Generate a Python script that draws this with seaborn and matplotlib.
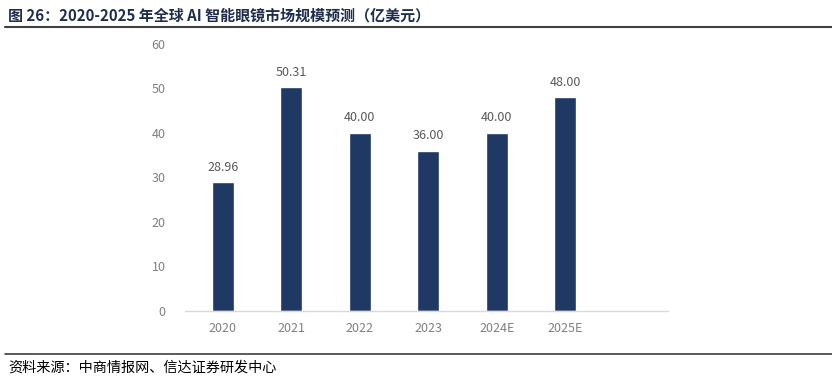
import matplotlib
matplotlib.use("Agg")
import matplotlib.pyplot as plt
import seaborn as sns
import pandas as pd

years = ["2020", "2021", "2022", "2023", "2024E", "2025E"]
market_size = [28.96, 50.31, 40.00, 36.00, 40.00, 48.00]
value_labels = ["28.96", "50.31", "40.00", "36.00", "40.00", "48.00"]
yticks = [0, 10, 20, 30, 40, 50, 60]

title = "图 26：2020-2025 年全球 AI 智能眼镜市场规模预测（亿美元）"
source = "资料来源：中商情报网、信达证券研发中心"

sns.set_style("white")
plt.rcParams['font.family'] = ['Noto Sans CJK SC', 'DejaVu Sans']

df = pd.DataFrame({"year": years, "value": market_size})

fig = plt.figure(figsize=(8.32, 3.79), dpi=100)
ax = fig.add_axes([0.2224, 0.1794, 0.5805, 0.7047])

sns.barplot(data=df, x="year", y="value", color="#1F3864", width=0.32,
            saturation=1, ax=ax)

for i, v in enumerate(market_size):
    ax.text(i, v + 1.9, value_labels[i], ha="center", va="bottom",
            fontsize=9, color="#595959")

ax.set_xlim(-0.55, 6.5)
ax.set_ylim(0, 60)
ax.set_yticks(yticks)
ax.set_xlabel("")
ax.set_ylabel("")
for s in ["top", "right", "left"]:
    ax.spines[s].set_visible(False)
ax.spines["bottom"].set_color("#D9D9D9")
ax.spines["bottom"].set_linewidth(1)
ax.tick_params(axis="both", length=0, labelsize=9, labelcolor="#808080")
ax.tick_params(axis="x", pad=8)
ax.tick_params(axis="y", pad=14)

# title and source framing
fig.text(0.010, 0.958, title, fontsize=10.8, fontweight="bold",
         color="#1F2D4D", va="center", ha="left")
fig.add_artist(plt.Line2D([0.006, 1.0], [0.930, 0.930], color="#404040",
                          linewidth=1.5, transform=fig.transFigure))
fig.add_artist(plt.Line2D([0.006, 1.0], [0.066, 0.066], color="#404040",
                          linewidth=1.2, transform=fig.transFigure))
fig.text(0.010, 0.031, source, fontsize=10.2, color="#000000",
         va="center", ha="left", style="italic")

fig.savefig("out.png", dpi=100)
